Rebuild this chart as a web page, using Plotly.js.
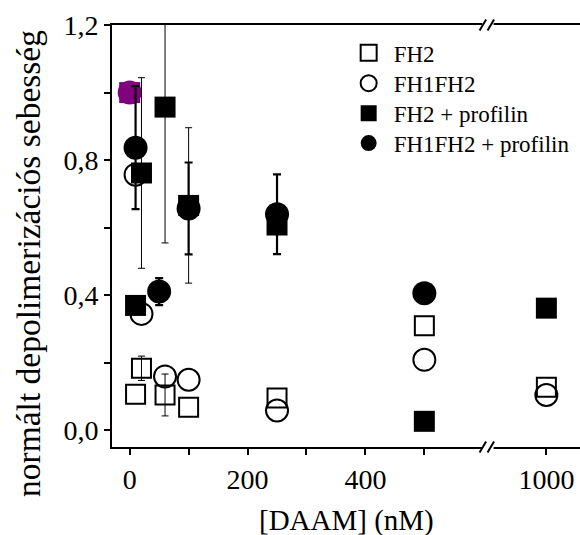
<!DOCTYPE html>
<html>
<head>
<meta charset="utf-8">
<script src="https://cdn.plot.ly/plotly-3.0.1.min.js"></script>
<style>html,body{margin:0;padding:0;background:#fff;}#chart{width:580px;height:535px;}</style>
</head>
<body>
<div id="chart"></div>
<script>
// ---- data ----
// x: [DAAM] (nM); y: normalised depolymerisation rate; err: error-bar half-length (null = none)
var fh2_x = [10, 20, 60, 100, 250, 500, 1000];
var fh2_y = [0.107, 0.184, 0.105, 0.069, 0.096, 0.310, 0.128];
var fh2_err = [null, 0.036, 0.062, null, null, null, null];

var fh1fh2_x = [10, 20, 60, 100, 250, 500, 1000];
var fh1fh2_y = [0.757, 0.345, 0.160, 0.150, 0.059, 0.209, 0.105];

var fh2prof_x = [10, 20, 60, 100, 250, 500, 1000];
var fh2prof_y = [0.370, 0.762, 0.957, 0.666, 0.608, 0.027, 0.362];
var fh2prof_err = [null, 0.282, 0.402, 0.230, null, null, null];

var fh1fh2prof_x = [10, 50, 100, 250, 500];
var fh1fh2prof_y = [0.837, 0.411, 0.657, 0.640, 0.406];
var fh1fh2prof_err = [0.182, 0.040, 0.136, 0.118, null];

var ref_x = [0];
var ref_y = [1.0];

var seriesNames = ['FH2', 'FH1FH2', 'FH2 + profilin', 'FH1FH2 + profilin'];
var xTickVals = [0, 100, 200, 300, 400, 500];
var xTickText = ['0', '', '200', '', '400', ''];
var x2TickVals = [1000];
var x2TickText = ['1000'];
var yTickVals = [0, 0.2, 0.4, 0.6, 0.8, 1.0, 1.2];
var yTickText = ['0,0', '', '0,4', '', '0,8', '', '1,2'];
var xTitle = '[DAAM] (nM)';
var yTitle = 'normált depolimerizációs sebesség';

// ---- build traces ----
var BREAK = 700; // values above this go on the right-hand axis segment
function split(xs, ys, es, right) {
  var ox = [], oy = [], oe = [];
  for (var i = 0; i < xs.length; i++) {
    if ((xs[i] > BREAK) === right) {
      ox.push(xs[i]); oy.push(ys[i]);
      oe.push(es && es[i] != null ? es[i] : NaN);
    }
  }
  return {x: ox, y: oy, e: oe};
}

var legendIds = ['legend', 'legend2', 'legend3', 'legend4'];
var styles = [
  {xs: fh2_x, ys: fh2_y, es: fh2_err,
   marker: {symbol: 'square-open', size: 19, color: '#000', line: {width: 2, color: '#000'}},
   errW: 1, cap: 3.5},
  {xs: fh1fh2_x, ys: fh1fh2_y, es: null,
   marker: {symbol: 'circle-open', size: 22, color: '#000', line: {width: 2, color: '#000'}},
   errW: 2, cap: 4},
  {xs: fh2prof_x, ys: fh2prof_y, es: fh2prof_err,
   marker: {symbol: 'square', size: 21, color: '#000', line: {width: 0}},
   errW: 1, cap: 3.5},
  {xs: fh1fh2prof_x, ys: fh1fh2prof_y, es: fh1fh2prof_err,
   marker: {symbol: 'circle', size: 24, color: '#000', line: {width: 0}},
   errW: 2.2, cap: 4}
];

var traces = [];
// purple reference point (value at 0 nM)
traces.push({x: ref_x, y: ref_y, type: 'scatter', mode: 'markers', showlegend: false,
  marker: {symbol: 'square', size: 21, color: '#800080'}, hoverinfo: 'skip', xaxis: 'x', yaxis: 'y'});
traces.push({x: ref_x, y: ref_y, type: 'scatter', mode: 'markers', showlegend: false,
  marker: {symbol: 'circle', size: 24, color: '#800080'}, hoverinfo: 'skip', xaxis: 'x', yaxis: 'y'});

styles.forEach(function (s, k) {
  [false, true].forEach(function (right) {
    var d = split(s.xs, s.ys, s.es, right);
    if (!d.x.length) return;
    var t = {
      x: d.x, y: d.y, type: 'scatter', mode: 'markers', name: seriesNames[k],
      legend: legendIds[k], showlegend: !right,
      marker: s.marker, cliponaxis: true,
      xaxis: right ? 'x2' : 'x', yaxis: 'y'
    };
    if (s.es) {
      t.error_y = {type: 'data', array: d.e, visible: true, color: '#000',
        thickness: s.errW, width: s.cap};
    }
    traces.push(t);
  });
});

var serif = 'Liberation Serif, Times New Roman, serif';
var leftEnd = (488 - 112) / 468;

function legendAt(yPaper) {
  return {x: 0.495, y: yPaper, xanchor: 'left', yanchor: 'middle', bgcolor: 'rgba(0,0,0,0)',
    font: {family: serif, size: 23, color: '#000'}, itemwidth: 40, itemsizing: 'trace'};
}

var layout = {
  width: 580, height: 535,
  margin: {l: 112, r: 0, t: 25, b: 88},
  paper_bgcolor: '#fff', plot_bgcolor: '#fff',
  font: {family: serif, color: '#000', size: 27},
  showlegend: true,
  legend: legendAt(0.934),
  legend2: legendAt(0.862),
  legend3: legendAt(0.791),
  legend4: legendAt(0.720),
  xaxis: {
    domain: [0, leftEnd], range: [-30, 608], anchor: 'y',
    showline: true, linecolor: '#000', linewidth: 2, mirror: true,
    showgrid: false, zeroline: false,
    ticks: 'outside', ticklen: 6, tickwidth: 2, tickcolor: '#000',
    tickvals: xTickVals, ticktext: xTickText,
    tickfont: {family: serif, size: 28, color: '#000'}
  },
  xaxis2: {
    domain: [leftEnd, 1], range: [901, 1057], anchor: 'y',
    showline: true, linecolor: '#000', linewidth: 2, mirror: true,
    showgrid: false, zeroline: false,
    ticks: 'outside', ticklen: 6, tickwidth: 2, tickcolor: '#000',
    tickvals: x2TickVals, ticktext: x2TickText,
    tickfont: {family: serif, size: 28, color: '#000'}
  },
  yaxis: {
    range: [-0.049, 1.2],
    showline: true, linecolor: '#000', linewidth: 2,
    showgrid: false, zeroline: false,
    ticks: 'outside', ticklen: 6, tickwidth: 2, tickcolor: '#000',
    tickvals: yTickVals, ticktext: yTickText,
    tickfont: {family: serif, size: 28, color: '#000'}
  },
  annotations: [
    {text: xTitle, xref: 'paper', yref: 'paper', x: 0.5, y: -0.173, xanchor: 'center', yanchor: 'middle',
     showarrow: false, font: {family: serif, size: 29, color: '#000'}},
    {text: yTitle, xref: 'paper', yref: 'paper', x: -0.1795, y: 0.436, xanchor: 'center', yanchor: 'middle',
     textangle: -90, showarrow: false, font: {family: serif, size: 33.5, color: '#000'}}
  ],
  shapes: [
    // axis-break marks "//" on the bottom and top axis lines
    {type: 'rect', xref: 'paper', yref: 'paper', x0: leftEnd - 0.012, x1: leftEnd + 0.012, y0: -0.006, y1: 0.006, fillcolor: '#fff', line: {width: 0}},
    {type: 'line', xref: 'paper', yref: 'paper', x0: leftEnd - 0.018, x1: leftEnd - 0.004, y0: -0.013, y1: 0.013, line: {color: '#000', width: 2}},
    {type: 'line', xref: 'paper', yref: 'paper', x0: leftEnd - 0.001, x1: leftEnd + 0.013, y0: -0.013, y1: 0.013, line: {color: '#000', width: 2}},
    {type: 'rect', xref: 'paper', yref: 'paper', x0: leftEnd - 0.012, x1: leftEnd + 0.012, y0: 0.994, y1: 1.006, fillcolor: '#fff', line: {width: 0}},
    {type: 'line', xref: 'paper', yref: 'paper', x0: leftEnd - 0.018, x1: leftEnd - 0.004, y0: 0.987, y1: 1.013, line: {color: '#000', width: 2}},
    {type: 'line', xref: 'paper', yref: 'paper', x0: leftEnd - 0.001, x1: leftEnd + 0.013, y0: 0.987, y1: 1.013, line: {color: '#000', width: 2}}
  ]
};

Plotly.newPlot('chart', traces, layout, {displayModeBar: false, staticPlot: true});
</script>
</body>
</html>
